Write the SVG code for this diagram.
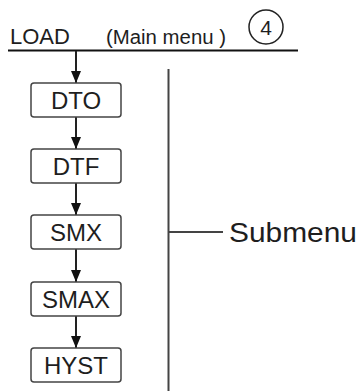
<svg xmlns="http://www.w3.org/2000/svg" width="359" height="391" viewBox="0 0 359 391">
<defs>
<style>
.t{font-family:"Liberation Sans",Arial,sans-serif;fill:#1e1e1e}
.box{fill:#fff;stroke:#444;stroke-width:1.5}
.lbl{font-size:24px;text-anchor:middle}
.c{stroke:#222;stroke-width:2;fill:none}
.g{stroke:#444;stroke-width:2;fill:none}
</style>
<marker id="ah" markerWidth="12" markerHeight="10" refX="12" refY="5" orient="auto" markerUnits="userSpaceOnUse" viewBox="0 0 12 10">
<path d="M0,0 L12,5 L0,10 Z" fill="#111"/>
</marker>
</defs>
<g id="header">
<text class="t" x="10" y="44" font-size="22">LOAD</text>
<text class="t" x="106" y="44" font-size="20" textLength="120" lengthAdjust="spacingAndGlyphs">(Main menu )</text>
<circle cx="266" cy="27" r="17" fill="none" stroke="#222" stroke-width="1.5"/>
<text class="t" x="266" y="35" font-size="21" text-anchor="middle">4</text>
<line x1="8" y1="50.5" x2="298" y2="50.5" stroke="#111" stroke-width="2"/>
</g>
<g id="connectors">
<line class="c" x1="76" y1="51" x2="76" y2="83" marker-end="url(#ah)"/>
<line class="c" x1="76" y1="117" x2="76" y2="149" marker-end="url(#ah)"/>
<line class="c" x1="76" y1="183" x2="76" y2="215" marker-end="url(#ah)"/>
<line class="c" x1="76" y1="249" x2="76" y2="282" marker-end="url(#ah)"/>
<line class="c" x1="76" y1="316" x2="76" y2="348" marker-end="url(#ah)"/>
<line class="g" x1="168.5" y1="69" x2="168.5" y2="391"/>
<line class="g" x1="168.5" y1="232" x2="223" y2="232"/>
</g>
<g id="DTO"><rect class="box" x="31" y="83" width="90" height="34" rx="3"/><text class="t lbl" x="76" y="108.5">DTO</text></g>
<g id="DTF"><rect class="box" x="31" y="149" width="90" height="34" rx="3"/><text class="t lbl" x="76" y="174.5">DTF</text></g>
<g id="SMX"><rect class="box" x="31" y="215" width="90" height="34" rx="3"/><text class="t lbl" x="76" y="240.5">SMX</text></g>
<g id="SMAX"><rect class="box" x="31" y="282" width="90" height="34" rx="3"/><text class="t lbl" x="76" y="307.5">SMAX</text></g>
<g id="HYST"><rect class="box" x="31" y="348" width="90" height="34" rx="3"/><text class="t lbl" x="76" y="373.5">HYST</text></g>
<g id="submenu"><text class="t" x="229" y="241.5" font-size="27" textLength="128" lengthAdjust="spacingAndGlyphs">Submenu</text></g>
</svg>
